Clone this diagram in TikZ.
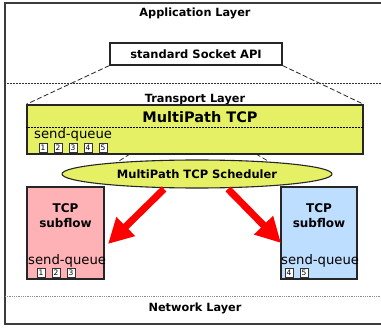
\documentclass[tikz,border=0pt]{standalone}
\usepackage{fontspec}
\setmainfont{DejaVu Sans}
\usetikzlibrary{arrows.meta,shapes.geometric}
\definecolor{mpyellow}{RGB}{230,240,100}
\definecolor{sfpink}{RGB}{255,178,182}
\definecolor{sfblue}{RGB}{190,222,255}
\definecolor{framegray}{RGB}{60,60,60}
\tikzset{
  layerlabel/.style={font=\bfseries\fontsize{11.3}{12}\selectfont, inner sep=0pt},
  boxline/.style={draw=black!85, line width=1.1pt},
  qsq/.style={draw=black!80, fill=white, line width=0.5pt, minimum width=8pt, minimum height=9.5pt, inner sep=0pt, font=\fontsize{7.5}{7.5}\selectfont},
  qlabel/.style={font=\fontsize{13.2}{13}\selectfont, inner sep=0pt, anchor=base west},
  sublabel/.style={font=\bfseries\fontsize{12}{15}\selectfont, align=center, inner sep=0pt},
  redarrow/.style={red, line width=7pt, -{Triangle[length=25pt, width=25pt]}, shorten >=0pt},
  conn/.style={dash pattern=on 5pt off 2.5pt, line width=0.8pt, black!85},
}
\begin{document}
\begin{tikzpicture}[x=1pt, y=-1pt]
\useasboundingbox (0,0) rectangle (381,329);
\clip (0,0) rectangle (381,329);
\fill[white] (0,0) rectangle (381,329);
% frame
\draw[framegray, line width=1.2pt] (5,3) rectangle (395,324);
% layer separators
\draw[black!80, densely dotted, line width=0.5pt] (5,83) -- (381,83);
\draw[black!45, densely dotted, line width=0.8pt] (5,296) -- (381,296);
% layer labels
\node[layerlabel] (app) at (195,13) {Application Layer};
\node[layerlabel] (trans) at (195,100) {Transport Layer};
\node[layerlabel] (net) at (195,308) {Network Layer};
% socket api
\node[boxline, fill=white, minimum width=172pt, minimum height=22pt, inner sep=0pt,
      font=\bfseries\fontsize{11.5}{12}\selectfont] (sock) at (196,54) {standard Socket API};
% MPTCP box
\node[boxline, line width=1.4pt, fill=mpyellow, minimum width=336pt, minimum height=49pt, inner sep=0pt] (mptcp) at (195,129.5) {};
\node[font=\bfseries\fontsize{14.5}{16}\selectfont, inner sep=0pt] (mptitle) at (200,117) {MultiPath TCP};
\draw[black, densely dotted, line width=0.5pt] (mptcp.west |- 0,127) -- (mptcp.east |- 0,127);
\node[qlabel] (mq) at (34,139) {send-queue};
\foreach \i in {1,...,5} {
  \node[qsq] (m\i) at (39+15*\i-15+4,148) {\i};
}
% dashed connectors
\draw[conn] (sock.south west) -- (mptcp.north west);
\draw[conn] (sock.south east) -- (mptcp.north east);
\coordinate (dl1) at (130,154);
\coordinate (dl2) at (119,161);
\coordinate (dr1) at (256,154);
\coordinate (dr2) at (268,161);
\draw[conn, line width=0.7pt] (dl1) -- (dl2);
\draw[conn, line width=0.7pt] (dr1) -- (dr2);
% subflows
\node[boxline, fill=sfpink, minimum width=77pt, minimum height=92pt, inner sep=0pt] (sfl) at (65.5,233) {};
\node[boxline, fill=sfblue, minimum width=76pt, minimum height=92pt, inner sep=0pt] (sfr) at (319,233) {};
\node[sublabel] (sflt) at (65.5,215.5) {TCP\\subflow};
\node[sublabel] (sfrt) at (319,215.5) {TCP\\subflow};
\node[qlabel] (lq) at (28,264.5) {send-queue};
\node[qlabel] (rq) at (281,264.5) {send-queue};
\foreach \i in {1,...,3} {
  \node[qsq] (l\i) at (37+15*\i-15+4,272.5) {\i};
}
\foreach \i/\j in {4/1,5/2} {
  \node[qsq] (r\i) at (285+15*\j-15+4,272.5) {\i};
}
% scheduler
\node[draw=black!85, line width=1.1pt, fill=mpyellow, ellipse, minimum width=270pt, minimum height=28pt, inner sep=0pt,
      font=\bfseries\fontsize{11.5}{12}\selectfont] (sched) at (197,174) {MultiPath TCP Scheduler};
% red arrows
\coordinate (al) at (108,244);
\coordinate (ar) at (281,243);
\coordinate (sl) at (164,189);
\coordinate (sr) at (228,189);
\draw[redarrow] (sl) -- (al);
\draw[redarrow] (sr) -- (ar);
\end{tikzpicture}
\end{document}
